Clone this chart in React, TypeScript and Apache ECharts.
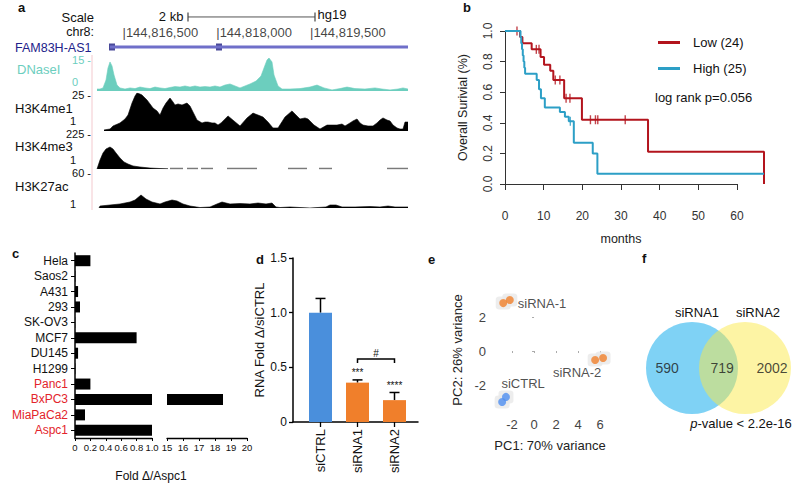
import { useEffect, useRef } from 'react';
import * as echarts from 'echarts';

const FONT = '"Liberation Sans", Arial, Helvetica, sans-serif';
const TEAL = '#6ccebe';
const RED_TXT = '#e3242b';

// ---------- panel a : genome browser (x = kb past chr8:144,816,000) ----------
const trackMin = 0.084;
const trackMax = 5.076;
const coordTicks = [0.5, 2.0, 3.5];
const coordLabels = ['144,816,500', '144,818,000', '144,819,500'];
const scaleBarKb = [1.556, 3.588];
const geneSpan = [0.308, 5.076];
const geneExons = [0.34, 2.052];
const dnaseI = [[0.1,0.9],[0.148,0.9],[0.196,1.4],[0.244,5],[0.276,10.5],[0.308,13.2],[0.34,11.4],[0.372,7.3],[0.42,2.7],[0.468,1.4],[0.548,0.9],[0.628,1.4],[0.708,1.1],[0.788,1.8],[0.868,1.4],[0.948,1.1],[1.028,1.8],[1.108,1.4],[1.188,1.1],[1.268,1.6],[1.348,2.0],[1.428,1.8],[1.508,2.3],[1.588,1.8],[1.668,2.3],[1.748,1.8],[1.828,2.0],[1.908,1.8],[1.988,2.3],[2.068,1.8],[2.148,2.7],[2.228,3.2],[2.308,2.3],[2.388,1.4],[2.468,2.3],[2.548,3.2],[2.644,4.5],[2.724,6.8],[2.772,10.5],[2.82,14.1],[2.852,15],[2.9,13.2],[2.932,7.3],[2.996,2.3],[3.06,0.9],[3.188,0.9],[3.348,1.1],[3.508,1.8],[3.62,2.7],[3.732,1.4],[3.86,0.5],[3.988,1.1],[4.1,1.8],[4.228,1.1],[4.388,0.9],[4.548,1.4],[4.66,0.9],[4.788,0.5],[4.916,0.9],[4.996,1.4],[5.076,0.9]];
const h3k4me1 = [[0.212,0.7],[0.308,1.3],[0.356,3.3],[0.468,5.3],[0.548,7.9],[0.596,10.5],[0.66,18.4],[0.708,23],[0.74,25],[0.788,24.3],[0.82,23.7],[0.868,21.7],[0.9,20.4],[0.948,17.8],[0.996,15.1],[1.06,13.2],[1.108,10.5],[1.156,15.1],[1.204,18.4],[1.268,21.7],[1.316,19.1],[1.348,17.1],[1.396,17.8],[1.46,17.1],[1.54,18.4],[1.588,16.4],[1.62,13.8],[1.668,9.9],[1.7,7.2],[1.78,5.3],[1.828,5.9],[1.876,5.9],[1.94,5.3],[1.988,5.3],[2.036,3.9],[2.084,5.3],[2.196,9.9],[2.292,6.6],[2.388,3.3],[2.5,8.6],[2.596,11.8],[2.676,10.5],[2.756,9.2],[2.836,5.9],[2.916,2.0],[2.996,2.0],[3.108,9.2],[3.22,13.2],[3.284,10.5],[3.348,7.9],[3.428,8.6],[3.476,7.9],[3.572,3.9],[3.668,1.3],[3.78,3.9],[3.94,3.9],[4.02,4.6],[4.068,3.3],[4.148,5.3],[4.196,6.6],[4.26,7.9],[4.308,5.3],[4.356,3.9],[4.436,3.3],[4.516,3.3],[4.58,5.3],[4.628,7.2],[4.676,8.6],[4.74,7.2],[4.788,6.6],[4.836,3.9],[4.9,2.0],[4.948,1.3],[4.996,1.3],[5.028,5.9],[5.076,5.9]];
const h3k4me3 = [[0.1,0],[0.148,56],[0.196,100],[0.244,125],[0.308,137.5],[0.356,125],[0.404,100],[0.468,69],[0.532,44],[0.596,31],[0.676,19],[0.788,12.5],[0.948,6],[1.108,3],[1.236,1]];
const h3k4me3LowSegments = [[1.268,1.476],[1.54,1.716],[1.764,1.956],[2.18,2.66],[3.156,3.46],[3.652,3.86],[4.74,5.076]];
const h3k27ac = [[0.132,0],[0.148,3.3],[0.308,5],[0.468,6.7],[0.628,10],[0.708,13.3],[0.804,21.7],[0.884,15],[0.98,10],[1.108,6.7],[1.188,10],[1.3,13.3],[1.38,11.7],[1.476,6.7],[1.588,3.3],[1.748,0.8],[1.908,1.7],[2.02,6.7],[2.1,10],[2.228,6.7],[2.388,7.5],[2.548,6.7],[2.676,8.3],[2.804,6.7],[2.9,8.3],[2.964,1.7],[3.028,0.8],[3.188,1.7],[3.348,0.8],[3.508,0],[3.764,1.7],[3.828,5],[3.924,5],[4.02,1.7],[4.228,1.7],[4.468,2.5],[4.628,1.7],[4.756,3.3],[4.868,1.7],[5.076,1.7]];

// ---------- panel b : Kaplan-Meier ----------
const kmLow = [[0,1],[3.9,0.96],[4.5,0.92],[6.9,0.88],[9.2,0.83],[10.1,0.78],[11.7,0.74],[12.5,0.68],[15.3,0.56],[19.9,0.42],[37,0.21],[67,0]];
const kmLowCensored = [[3.1,1],[8.1,0.88],[8.8,0.88],[13.0,0.68],[14.2,0.68],[15.8,0.56],[16.8,0.56],[22.1,0.42],[23.4,0.42],[24.0,0.42],[31.1,0.42]];
const kmHigh = [[0,1],[4.0,0.96],[4.2,0.92],[4.4,0.88],[4.6,0.84],[4.8,0.8],[5.0,0.76],[5.2,0.72],[8.2,0.68],[8.8,0.62],[9.3,0.56],[10.3,0.5],[14.2,0.47],[15.5,0.44],[16.5,0.41],[17.8,0.27],[22.7,0.2],[23.9,0.067],[67,0.067]];
const kmHighCensored = [[16.9,0.41],[67,0.067]];
const kmGroups = ['Low (24)', 'High (25)'];

// ---------- panel c ----------
const cellLines = ['Hela','Saos2','A431','293','SK-OV3','MCF7','DU145','H1299','Panc1','BxPC3','MiaPaCa2','Aspc1'];
const foldVsAspc1 = [0.2, 0.005, 0.04, 0.065, 0.003, 0.8, 0.04, 0.005, 0.2, 18.5, 0.13, 1.0];
const pancreaticLines = ['Panc1','BxPC3','MiaPaCa2','Aspc1'];
const breakLow = [0, 1];
const breakHigh = [15, 20];

// ---------- panel d ----------
const knockdownGroups = ['siCTRL','siRNA1','siRNA2'];
const rnaMean = [1.0, 0.36, 0.2];
const rnaErr = [0.13, 0.025, 0.07];
const sigLabels = ['', '***', '****'];
const bracketPair = [1, 2];
const bracketLevel = 0.576;
const bracketLabel = '#';

// ---------- panel e ----------
const pcaSiRNA1 = [[-2.8, 2.82], [-2.2, 3.0]];
const pcaSiRNA2 = [[5.55, -0.53], [6.27, -0.41]];
const pcaSiCTRL = [[-2.9, -3.0], [-2.55, -2.7]];
const pcaTicksX = [-2, 0, 2, 4, 6];
const pcaTicksY = [-2, 0, 2];

// ---------- panel f ----------
const vennSets = ['siRNA1', 'siRNA2'];
const vennCounts = [590, 719, 2002];

const txt = (text: string, x: number, y: number, o: any = {}) => ({
  type: 'text', x, y, silent: true, rotation: o.rotation || 0,
  style: {
    text, fill: o.fill || '#111', fontSize: o.size || 13, fontFamily: o.family || FONT,
    fontWeight: o.weight || 'normal', fontStyle: o.fontStyle || 'normal',
    align: o.align || 'left', verticalAlign: 'middle',
    textAlign: o.align || 'left', textVerticalAlign: 'middle', rich: o.rich,
  },
});

const hidden = (gridIndex: number, min: number, max: number, extra: any = {}) => ({
  type: 'value', gridIndex, min, max, show: false, ...extra,
});

function buildOption(): any {
  const trackGrids = [
    { left: 96, width: 312, top: 58, height: 33 },
    { left: 96, width: 312, top: 93, height: 38 },
    { left: 96, width: 312, top: 133, height: 36 },
    { left: 96, width: 312, top: 172, height: 36 },
    { left: 96, width: 312, top: 43, height: 8 },
    { left: 96, width: 312, top: 8, height: 32 },
  ];
  const grids = [
    ...trackGrids,
    { left: 505, width: 259, top: 31, height: 153 }, // 6 KM data
    { left: 505, width: 232, top: 31, height: 153 }, // 7 KM x axis
    { left: 75, width: 77, top: 253, height: 185 }, // 8 c left
    { left: 167, width: 80, top: 253, height: 185 }, // 9 c right
    { left: 293, width: 125, top: 258, height: 164 }, // 10 d axes
    { left: 302, width: 111, top: 258, height: 164 }, // 11 d bars
    { left: 490, width: 120, top: 290, height: 120 }, // 12 e
    { left: 620, width: 180, top: 300, height: 140 }, // 13 f
  ];
  const trackY = [15, 25, 225, 60, 1, 1];

  const xAxis: any[] = [];
  const yAxis: any[] = [];
  for (let i = 0; i < 6; i++) {
    xAxis.push(hidden(i, trackMin, trackMax));
    yAxis.push(hidden(i, 0, trackY[i]));
  }
  // 6 KM data
  xAxis.push(hidden(6, 0, 67));
  yAxis.push({
    type: 'value', gridIndex: 6, min: 0, max: 1, interval: 0.2, offset: 2,
    name: 'Overall Surivial (%)', nameLocation: 'middle', nameRotate: 90, nameGap: 34,
    nameTextStyle: { fontSize: 12.5, fontFamily: FONT, color: '#222' },
    axisLine: { show: true, lineStyle: { color: '#333', width: 1 } },
    axisTick: { show: true, length: 5, lineStyle: { color: '#333' } },
    axisLabel: { rotate: 90, margin: 9, fontSize: 12, fontFamily: FONT, color: '#333', formatter: (v: number) => v.toFixed(1) },
    splitLine: { show: false },
  });
  // 7 KM x axis
  xAxis.push({
    type: 'value', gridIndex: 7, min: 0, max: 60, interval: 10, offset: 8,
    name: 'months', nameLocation: 'middle', nameGap: 40,
    nameTextStyle: { fontSize: 12.5, fontFamily: FONT, color: '#222' },
    axisLine: { show: true, lineStyle: { color: '#333', width: 1 } },
    axisTick: { show: true, length: 6, lineStyle: { color: '#333' } },
    axisLabel: { margin: 18, fontSize: 12, fontFamily: FONT, color: '#333' },
    splitLine: { show: false },
  });
  yAxis.push(hidden(7, 0, 1));
  // 8 c left
  xAxis.push({
    type: 'value', gridIndex: 8, min: breakLow[0], max: breakLow[1], interval: 0.2,
    axisLine: { show: true, lineStyle: { color: '#000', width: 1.3 } },
    axisTick: { show: true, length: 3, lineStyle: { color: '#000' } },
    axisLabel: { margin: 4, fontSize: 9.5, fontFamily: FONT, color: '#111', showMinLabel: true, showMaxLabel: true, hideOverlap: false, formatter: (v: number) => (v === 0 ? '0' : v.toFixed(1)) },
    splitLine: { show: false },
  });
  yAxis.push({
    type: 'category', gridIndex: 8, data: cellLines, inverse: true,
    axisLine: { show: true, lineStyle: { color: '#000', width: 1.5 } },
    axisTick: { show: true, alignWithLabel: true, interval: 0, length: 4, lineStyle: { color: '#000' } },
    axisLabel: { interval: 0, margin: 7, fontSize: 12, fontFamily: FONT, color: (v: string) => (pancreaticLines.includes(v) ? RED_TXT : '#111') },
  });
  // 9 c right
  xAxis.push({
    type: 'value', gridIndex: 9, min: breakHigh[0], max: breakHigh[1], interval: 1,
    axisLine: { show: true, lineStyle: { color: '#000', width: 1.3 } },
    axisTick: { show: true, length: 3, lineStyle: { color: '#000' } },
    axisLabel: { margin: 4, fontSize: 9.5, fontFamily: FONT, color: '#111', showMinLabel: true, showMaxLabel: true },
    splitLine: { show: false },
  });
  yAxis.push({ type: 'category', gridIndex: 9, data: cellLines, inverse: true, show: false });
  // 10 d axes
  xAxis.push({
    type: 'value', gridIndex: 10, min: 0, max: 1,
    axisLine: { show: true, lineStyle: { color: '#000', width: 1.5 } },
    axisTick: { show: false }, axisLabel: { show: false }, splitLine: { show: false },
  });
  yAxis.push({
    type: 'value', gridIndex: 10, min: 0, max: 1.5, interval: 0.5,
    name: 'RNA Fold Δ/siCTRL', nameLocation: 'middle', nameRotate: 90, nameGap: 27,
    nameTextStyle: { fontSize: 13, fontFamily: FONT, color: '#111' },
    axisLine: { show: true, lineStyle: { color: '#000', width: 1.5 } },
    axisTick: { show: true, length: 4, lineStyle: { color: '#000', width: 1.3 } },
    axisLabel: { margin: 6, fontSize: 12, fontFamily: FONT, color: '#111', formatter: (v: number) => (v === 0 ? '0' : v.toFixed(1)) },
    splitLine: { show: false },
  });
  // 11 d bars
  xAxis.push({
    type: 'category', gridIndex: 11, data: knockdownGroups,
    axisLine: { show: false },
    axisTick: { show: true, alignWithLabel: true, length: 5, lineStyle: { color: '#000', width: 1.3 } },
    axisLabel: { interval: 0, rotate: 90, margin: 7, fontSize: 13, fontFamily: FONT, color: '#111' },
  });
  yAxis.push(hidden(11, 0, 1.5));
  // 12 e
  xAxis.push({
    type: 'value', gridIndex: 12, min: -4, max: 6.9,
    name: 'PC1: 70% variance', nameLocation: 'middle', nameGap: 29,
    nameTextStyle: { fontSize: 13, fontFamily: FONT, color: '#222' },
    axisLine: { show: false },
    axisTick: { show: true, length: 2, customValues: pcaTicksX, lineStyle: { color: '#aaa' } },
    axisLabel: { margin: 8, fontSize: 13, fontFamily: FONT, color: '#444', customValues: pcaTicksX },
    splitLine: { show: false },
  });
  yAxis.push({
    type: 'value', gridIndex: 12, min: -3.47, max: 3.59,
    name: 'PC2: 26% variance', nameLocation: 'middle', nameRotate: 90, nameGap: 26,
    nameTextStyle: { fontSize: 13, fontFamily: FONT, color: '#222' },
    axisLine: { show: false },
    axisTick: { show: true, length: 2, customValues: pcaTicksY, lineStyle: { color: '#aaa' } },
    axisLabel: { margin: 4, fontSize: 13, fontFamily: FONT, color: '#444', customValues: pcaTicksY },
    splitLine: { show: false },
  });
  // 13 f
  xAxis.push(hidden(13, -1.358, 2.038));
  yAxis.push(hidden(13, -1.358, 1.283));

  const series: any[] = [];
  const area = (data: number[][], idx: number, color: string) => ({
    type: 'line', xAxisIndex: idx, yAxisIndex: idx, data, symbol: 'none', silent: true,
    lineStyle: { color, width: 0.6 }, areaStyle: { color, opacity: 1 },
  });
  series.push(area(dnaseI, 0, TEAL));
  series.push(area(h3k4me1, 1, '#000'));
  series.push(area(h3k4me3, 2, '#000'));
  series.push({
    type: 'lines', coordinateSystem: 'cartesian2d', xAxisIndex: 2, yAxisIndex: 2, silent: true,
    data: h3k4me3LowSegments.map(([a, b]) => ({ coords: [[a, 3], [b, 3]] })),
    lineStyle: { color: '#7a7a7a', width: 1.4, opacity: 1 },
  });
  series.push(area(h3k27ac, 3, '#000'));
  // gene model
  series.push({
    type: 'line', xAxisIndex: 4, yAxisIndex: 4, data: geneSpan.map((x) => [x, 0.5]), symbol: 'none', silent: true,
    lineStyle: { color: '#6f6fc9', width: 3 },
  });
  series.push({
    type: 'scatter', xAxisIndex: 4, yAxisIndex: 4, data: geneExons.map((x) => [x, 0.5]), symbol: 'rect', symbolSize: [6, 7], silent: true,
    itemStyle: { color: '#1b1b80' },
  });
  // ruler
  series.push({
    type: 'line', xAxisIndex: 5, yAxisIndex: 5, silent: true,
    data: [
      { value: [scaleBarKb[0], 0.72], label: { show: true, formatter: '2 kb', position: 'left', distance: 4 } },
      { value: [scaleBarKb[1], 0.72], label: { show: true, formatter: 'hg19', position: 'right', distance: 2, offset: [0, -2] } },
    ],
    symbol: 'rect', symbolSize: [1.2, 9], itemStyle: { color: '#444' },
    lineStyle: { color: '#555', width: 1 },
    label: { fontSize: 13, fontFamily: FONT, color: '#111' },
  });
  series.push({
    type: 'scatter', xAxisIndex: 5, yAxisIndex: 5, silent: true, symbolSize: 1,
    itemStyle: { color: 'rgba(0,0,0,0)' },
    data: coordTicks.map((x, i) => ({ value: [x, 0.22], label: { formatter: '|' + coordLabels[i] } })),
    label: { show: true, position: 'right', distance: 0, fontSize: 13, fontFamily: FONT, color: '#111' },
  });
  // KM
  const RED = '#b3141d';
  const BLUE = '#2c9fc6';
  series.push({ name: kmGroups[0], type: 'line', step: 'end', xAxisIndex: 6, yAxisIndex: 6, data: kmLow, symbol: 'none', color: RED, lineStyle: { width: 2 } });
  series.push({ type: 'scatter', xAxisIndex: 6, yAxisIndex: 6, data: kmLowCensored, symbol: 'rect', symbolSize: [1.4, 9], itemStyle: { color: RED } });
  series.push({ name: kmGroups[1], type: 'line', step: 'end', xAxisIndex: 6, yAxisIndex: 6, data: kmHigh, symbol: 'none', color: BLUE, lineStyle: { width: 2 } });
  series.push({ type: 'scatter', xAxisIndex: 6, yAxisIndex: 6, data: kmHighCensored, symbol: 'rect', symbolSize: [1.4, 9], itemStyle: { color: BLUE } });
  // panel c bars
  series.push({ type: 'bar', xAxisIndex: 8, yAxisIndex: 8, data: foldVsAspc1, barWidth: 11, itemStyle: { color: '#000' }, silent: true });
  series.push({ type: 'bar', xAxisIndex: 9, yAxisIndex: 9, data: foldVsAspc1.map((v) => (v > breakHigh[0] ? v : null)), barWidth: 11, itemStyle: { color: '#000' }, silent: true });
  // panel d
  const barColors = ['#4a8fdc', '#f07f2b', '#f07f2b'];
  series.push({
    type: 'bar', xAxisIndex: 11, yAxisIndex: 11, barWidth: 23, silent: true,
    data: rnaMean.map((v, i) => ({ value: v, itemStyle: { color: barColors[i] } })),
  });
  series.push({
    type: 'custom', xAxisIndex: 11, yAxisIndex: 11, silent: true,
    data: rnaMean.map((m, i) => [i, m, rnaErr[i]]),
    encode: { x: 0, y: 1 },
    renderItem: (params: any, api: any) => {
      const i = api.value(0);
      const m = api.value(1);
      const e = api.value(2);
      const top = api.coord([i, m + e]);
      const base = api.coord([i, m]);
      const children: any[] = [
        { type: 'line', shape: { x1: top[0], y1: base[1], x2: top[0], y2: top[1] }, style: { stroke: '#000', lineWidth: 1.5 } },
        { type: 'line', shape: { x1: top[0] - 5, y1: top[1], x2: top[0] + 5, y2: top[1] }, style: { stroke: '#000', lineWidth: 1.5 } },
      ];
      const s = sigLabels[params.dataIndex];
      if (s) {
        children.push({ type: 'text', x: top[0], y: top[1] - 2, style: { text: s, fontSize: 10, fontFamily: FONT, fill: '#111', align: 'center', verticalAlign: 'bottom', textAlign: 'center', textVerticalAlign: 'bottom' } });
      }
      return { type: 'group', children };
    },
  });
  series.push({
    type: 'custom', xAxisIndex: 11, yAxisIndex: 11, silent: true,
    data: [[bracketPair[0], bracketLevel, bracketPair[1]]],
    encode: { x: 0, y: 1 },
    renderItem: (_p: any, api: any) => {
      const a = api.coord([api.value(0), api.value(1)]);
      const b = api.coord([api.value(2), api.value(1)]);
      return {
        type: 'group',
        children: [
          { type: 'polyline', shape: { points: [[a[0], a[1] + 4], [a[0], a[1]], [b[0], b[1]], [b[0], b[1] + 4]] }, style: { stroke: '#000', lineWidth: 1.5, fill: 'none' } },
          { type: 'text', x: (a[0] + b[0]) / 2, y: a[1] - 1, style: { text: bracketLabel, fontSize: 10, fontFamily: FONT, fill: '#111', align: 'center', verticalAlign: 'bottom', textAlign: 'center', textVerticalAlign: 'bottom' } },
        ],
      };
    },
  });
  // panel e
  const ORANGE = '#f07f2b';
  const halo = (pts: number[][]) => ({
    type: 'scatter', xAxisIndex: 12, yAxisIndex: 12, data: pts, symbol: 'roundRect', symbolSize: [15, 13], silent: true,
    itemStyle: { color: '#e9e9e9' }, z: 1,
  });
  series.push(halo(pcaSiRNA1), halo(pcaSiRNA2), halo(pcaSiCTRL));
  const pcaLabel = { fontSize: 13, fontFamily: FONT, color: '#222' };
  series.push({
    type: 'scatter', xAxisIndex: 12, yAxisIndex: 12, symbolSize: 8, itemStyle: { color: ORANGE }, z: 3, silent: true,
    data: pcaSiRNA1.map((p, i) => (i === 1 ? { value: p, label: { show: true, formatter: 'siRNA-1', position: 'right', distance: 4, offset: [0, 3], ...pcaLabel } } : p)),
  });
  series.push({
    type: 'scatter', xAxisIndex: 12, yAxisIndex: 12, symbolSize: 8, itemStyle: { color: ORANGE }, z: 3, silent: true,
    data: pcaSiRNA2.map((p, i) => (i === 0 ? { value: p, label: { show: true, formatter: 'siRNA-2', position: 'inside', offset: [-18, 12], ...pcaLabel } } : p)),
  });
  series.push({
    type: 'scatter', xAxisIndex: 12, yAxisIndex: 12, symbolSize: 8, itemStyle: { color: '#4f8ff0' }, z: 3, silent: true,
    data: pcaSiCTRL.map((p, i) => (i === 0 ? { value: p, label: { show: true, formatter: 'siCTRL', position: 'inside', offset: [21, -19], ...pcaLabel } } : p)),
  });
  // panel f venn
  series.push({
    type: 'scatter', xAxisIndex: 13, yAxisIndex: 13, symbolSize: 92, silent: true,
    data: [
      { value: [0, 0], itemStyle: { color: '#5fc7f3' } },
      { value: [1, 0], itemStyle: { color: 'rgba(250,232,70,0.62)' } },
    ],
  });
  const countPos = [-0.47, 0.57, 1.51];
  series.push({
    type: 'scatter', xAxisIndex: 13, yAxisIndex: 13, symbolSize: 1, silent: true, itemStyle: { color: 'rgba(0,0,0,0)' },
    data: vennCounts.map((c, i) => ({ value: [countPos[i], 0], label: { formatter: String(c) } })),
    label: { show: true, position: 'inside', fontSize: 14, fontFamily: FONT, color: '#1a1a1a' },
  });

  const graphic: any[] = [
    { type: 'line', silent: true, shape: { x1: 92, y1: 55, x2: 92, y2: 210 }, style: { stroke: '#f3c9ce', lineWidth: 1 } },
    txt('a', 18, 7, { weight: 'bold' }),
    txt('b', 463, 7, { weight: 'bold' }),
    txt('c', 12, 253, { weight: 'bold' }),
    txt('d', 256, 259, { weight: 'bold' }),
    txt('e', 428, 259, { weight: 'bold' }),
    txt('f', 642, 258, { weight: 'bold' }),
    txt('Scale', 94, 17, { align: 'right' }),
    txt('chr8:', 94, 32, { align: 'right', size: 12.5 }),
    txt('FAM83H-AS1', 15, 47.5, { fill: '#22228a', size: 12.5 }),
    txt('DNaseI', 17, 69, { fill: TEAL }),
    txt('15 -', 91, 60, { fill: TEAL, size: 11, align: 'right' }),
    txt('0', 75, 82, { fill: TEAL, size: 11, align: 'center' }),
    txt('H3K4me1', 15, 108),
    txt('25 -', 91, 95, { size: 11, align: 'right' }),
    txt('1', 73, 121, { size: 11, align: 'center' }),
    txt('H3K4me3', 15, 146),
    txt('225 -', 91, 134, { size: 11, align: 'right' }),
    txt('1', 73, 160, { size: 11, align: 'center' }),
    txt('H3K27ac', 15, 186),
    txt('60 -', 91, 173, { size: 11, align: 'right' }),
    txt('1', 73, 204, { size: 11, align: 'center' }),
    txt('log rank p=0.056', 655, 97),
    txt('Fold Δ/Aspc1', 151, 476, { align: 'center', size: 12 }),
    txt(vennSets[0], 697, 312, { align: 'center' }),
    txt(vennSets[1], 758, 312, { align: 'center' }),
    txt('{i|p}-value < 2.2e-16', 741, 423, { align: 'center', rich: { i: { fontStyle: 'italic', fontSize: 13, fontFamily: FONT, fill: '#111' } } }),
  ];

  return {
    animation: false,
    backgroundColor: '#fff',
    textStyle: { fontFamily: FONT },
    grid: grids,
    xAxis,
    yAxis,
    legend: {
      data: kmGroups, left: 653, top: 31, orient: 'vertical', itemWidth: 22, itemHeight: 3, itemGap: 13,
      icon: 'rect', selectedMode: false,
      textStyle: { fontSize: 13, fontFamily: FONT, color: '#111', padding: [0, 0, 0, 8] },
    },
    series,
    graphic,
  };
}

export default function App() {
  const ref = useRef<HTMLDivElement>(null);
  useEffect(() => {
    const chart = echarts.init(ref.current as HTMLDivElement, null, { renderer: 'svg' });
    chart.setOption(buildOption());
    return () => chart.dispose();
  }, []);
  return <div ref={ref} style={{ position: 'fixed', left: 0, top: 0, width: 800, height: 484, background: '#fff' }} />;
}
